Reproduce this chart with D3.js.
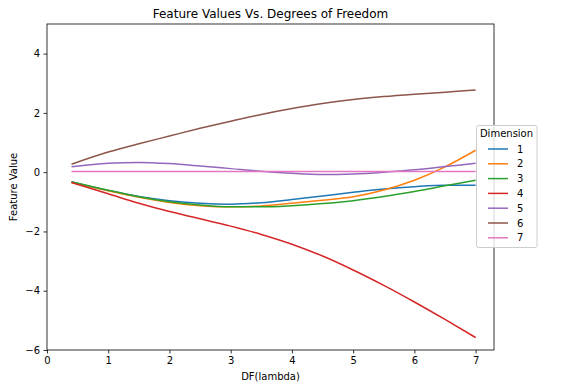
<!DOCTYPE html>
<html><head><meta charset="utf-8">
<script src="https://cdn.jsdelivr.net/npm/d3@7"></script>
<style>body{margin:0;background:#fff;}text{font-family:"DejaVu Sans",sans-serif;fill:#000;}</style>
</head><body><svg id="c" width="564" height="391"></svg>
<script>
const dfValues = [0.4, 1, 1.5, 2, 2.5, 3, 3.5, 4, 4.5, 5, 5.5, 6, 6.5, 7];
const dim1 = [-0.33, -0.62, -0.82, -0.96, -1.05, -1.08, -1.03, -0.92, -0.8, -0.68, -0.57, -0.49, -0.44, -0.44];
const dim2 = [-0.35, -0.63, -0.85, -1.02, -1.13, -1.17, -1.14, -1.05, -0.95, -0.83, -0.6, -0.27, 0.18, 0.74];
const dim3 = [-0.32, -0.61, -0.83, -1.0, -1.11, -1.17, -1.17, -1.13, -1.06, -0.96, -0.82, -0.65, -0.46, -0.27];
const dim4 = [-0.35, -0.73, -1.05, -1.33, -1.57, -1.82, -2.1, -2.43, -2.83, -3.3, -3.82, -4.38, -4.97, -5.58];
const dim5 = [0.18, 0.3, 0.33, 0.29, 0.21, 0.12, 0.03, -0.04, -0.08, -0.06, 0.0, 0.08, 0.19, 0.3];
const dim6 = [0.27, 0.68, 0.96, 1.22, 1.48, 1.72, 1.95, 2.15, 2.32, 2.45, 2.55, 2.63, 2.7, 2.77];
const dim7 = [0.02, 0.02, 0.02, 0.02, 0.02, 0.02, 0.02, 0.02, 0.02, 0.02, 0.02, 0.02, 0.02, 0.02];
const seriesNames = ["1", "2", "3", "4", "5", "6", "7"];
const xTicks = [0, 1, 2, 3, 4, 5, 6, 7];
const yTicks = [-6, -4, -2, 0, 2, 4];
const colors = ["#1f77b4", "#ff7f0e", "#2ca02c", "#d62728", "#9467bd", "#8c564b", "#e377c2"];

const allSeries = [dim1, dim2, dim3, dim4, dim5, dim6, dim7];
const svg = d3.select("#c");
const L = 47, R = 494, T = 24, B = 350;
const x = d3.scaleLinear().domain([0, 7.3]).range([L, R]);
const y = d3.scaleLinear().domain([-6, 5]).range([B, T]);
const fmt = d => String(d).replace("-", "\u2212");

const gx = svg.append("g").attr("transform", `translate(0,${B})`)
  .call(d3.axisBottom(x).tickValues(xTicks).tickSize(3.5).tickPadding(3.5).tickFormat(fmt));
const gy = svg.append("g").attr("transform", `translate(${L},0)`)
  .call(d3.axisLeft(y).tickValues(yTicks).tickSize(3.5).tickPadding(3.5).tickFormat(fmt));
[gx, gy].forEach(g => {
  g.select(".domain").remove();
  g.selectAll("text").style("font-family", "DejaVu Sans").style("font-size", "10px").attr("fill", "#000");
  g.selectAll("line").attr("stroke", "#000").attr("stroke-width", 0.8);
});

const line = d3.line().x((d, i) => x(dfValues[i])).y(d => y(d)).curve(d3.curveMonotoneX);
allSeries.forEach((s, i) => {
  svg.append("path").datum(s).attr("d", line).attr("fill", "none")
    .attr("stroke", colors[i]).attr("stroke-width", 1.5);
});

svg.append("rect").attr("x", L).attr("y", T).attr("width", R - L).attr("height", B - T)
  .attr("fill", "none").attr("stroke", "#000").attr("stroke-width", 0.8);

svg.append("text").attr("x", (L + R) / 2).attr("y", 18).attr("text-anchor", "middle")
  .style("font-size", "12px").text("Feature Values Vs. Degrees of Freedom");
svg.append("text").attr("x", (L + R) / 2).attr("y", 380).attr("text-anchor", "middle")
  .style("font-size", "10px").text("DF(lambda)");
svg.append("text").attr("transform", `translate(17,${(T + B) / 2}) rotate(-90)`).attr("text-anchor", "middle")
  .style("font-size", "10px").text("Feature Value");

// legend
const lg = svg.append("g");
lg.append("rect").attr("x", 476.5).attr("y", 125.5).attr("width", 60.5).attr("height", 122)
  .attr("rx", 2).attr("fill", "#fff").attr("fill-opacity", 0.8).attr("stroke", "#ccc").attr("stroke-width", 1);
lg.append("text").attr("x", 506.5).attr("y", 137).attr("text-anchor", "middle")
  .style("font-size", "10px").text("Dimension");
seriesNames.forEach((n, i) => {
  const yy = 149 + i * 14.8;
  lg.append("line").attr("x1", 488).attr("x2", 508).attr("y1", yy).attr("y2", yy)
    .attr("stroke", colors[i]).attr("stroke-width", 1.5);
  lg.append("text").attr("x", 517).attr("y", yy + 3.5).style("font-size", "10px").text(n);
});
</script></body></html>
